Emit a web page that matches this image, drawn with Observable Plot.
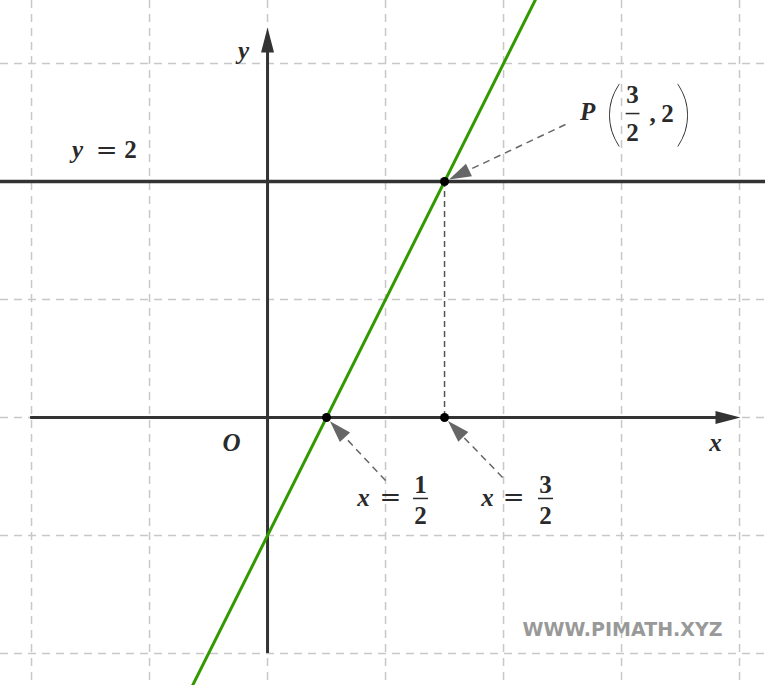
<!DOCTYPE html>
<html>
<head>
<meta charset="utf-8">
<script src="https://cdn.jsdelivr.net/npm/d3@7"></script>
<script src="https://cdn.jsdelivr.net/npm/@observablehq/plot@0.6"></script>
<style>
  html, body { margin: 0; padding: 0; background: #fff; }
  svg { display: block; }
</style>
</head>
<body>
<div id="chart"></div>
<script>
// ---- data ----
const gridX = [-2, -1, 0, 1, 2, 3, 4];
const gridY = [-2, -1, 0, 1, 2, 3];
// line y = 2x - 1 (two endpoints beyond the frame)
const lineXs = [-0.7, 2.35];
const lineYs = [-2.4, 3.7];
const horizLineY = 2;
const points = [
  {x: 0.5, y: 0},
  {x: 1.5, y: 0},
  {x: 1.5, y: 2}
];
// annotation arrows: tail -> target point
const arrows = [
  {id: "P",  x1: 2.525, y1: 2.483, x2: 1.5, y2: 2},
  {id: "a",  x1: 1.0,   y1: -0.534, x2: 0.5, y2: 0},
  {id: "b",  x1: 1.992, y1: -0.508, x2: 1.5, y2: 0}
];
// italic math labels
const italicLabels = [
  {x: -1.610, y: 2.263, t: "y"},
  {x: -0.203, y: 3.110, t: "y"},
  {x: 3.797,  y: -0.212, t: "x"},
  {x: -0.305, y: -0.220, t: "O"},
  {x: 2.712,  y: 2.585, t: "P"},
  {x: 0.814,  y: -0.678, t: "x"},
  {x: 1.864,  y: -0.678, t: "x"}
];
const equalSigns = [
  {x: -1.364, y: 2.263},
  {x: 1.042,  y: -0.678},
  {x: 2.085,  y: -0.678}
];
const uprightLabels = [
  {x: -1.161, y: 2.263, t: "2"},
  {x: 1.297,  y: -0.576, t: "1"},
  {x: 1.297,  y: -0.831, t: "2"},
  {x: 2.356,  y: -0.576, t: "3"},
  {x: 2.356,  y: -0.831, t: "2"},
  {x: 3.093,  y: 2.729, t: "3"},
  {x: 3.093,  y: 2.415, t: "2"},
  {x: 3.263,  y: 2.576, t: ","},
  {x: 3.390,  y: 2.576, t: "2"}
];
const fractionBars = [
  {x1: 1.233, x2: 1.360, y: -0.686},
  {x1: 2.292, x2: 2.419, y: -0.686},
  {x1: 3.035, x2: 3.152, y: 2.576}
];
const parens = [
  {x: 2.932, y: 2.568, t: "("},
  {x: 3.525, y: 2.568, t: ")"}
];
const watermark = [{x: 3.008, y: -1.797, t: "WWW.PIMATH.XYZ"}];
const axisX = {from: -2.008, tip: 4.008};
const axisY = {from: -2.0, tip: 3.305};

// ---- geometry helpers (data units; 1 unit = 118 px on both axes) ----
const U = 118;
function head(tx, ty, ux, uy, len, hw, id) {
  const n = Math.hypot(ux, uy); ux /= n; uy /= n;
  const bx = tx - ux * len, by = ty - uy * len;
  const px = -uy, py = ux;
  return [
    {id, x: tx, y: ty},
    {id, x: bx + px * hw, y: by + py * hw},
    {id, x: bx - px * hw, y: by - py * hw},
    {id, x: tx, y: ty}
  ];
}
const gap = 5 / U, annLen = 22 / U, annHw = 7 / U;
const annSegs = [], annHeads = [];
for (const a of arrows) {
  const ux = a.x2 - a.x1, uy = a.y2 - a.y1, n = Math.hypot(ux, uy);
  const tx = a.x2 - ux / n * gap, ty = a.y2 - uy / n * gap;
  annSegs.push({id: a.id, x1: a.x1, y1: a.y1, x2: tx - ux / n * annLen * 0.8, y2: ty - uy / n * annLen * 0.8});
  annHeads.push(...head(tx, ty, ux, uy, annLen, annHw, a.id));
}
const axLen = 25 / U, axHw = 6.5 / U;
const axisHeads = [
  ...head(axisX.tip, 0, 1, 0, axLen, axHw, "ax"),
  ...head(0, axisY.tip, 0, 1, axLen, axHw, "ay")
];
const greenLine = lineXs.map((x, i) => ({x, y: lineYs[i]}));

const mathFont = "Liberation Serif";

const chart = Plot.plot({
  width: 765,
  height: 685,
  margin: 0,
  x: {domain: [-2.263, 4.22], axis: null},
  y: {domain: [-2.271, 3.534], axis: null},
  style: {background: "#fff"},
  marks: [
    Plot.ruleX(gridX, {stroke: "#c8c8c8", strokeWidth: 1.5, strokeDasharray: "8,6"}),
    Plot.ruleY(gridY, {stroke: "#c8c8c8", strokeWidth: 1.5, strokeDasharray: "8,6"}),
    // axes
    Plot.ruleY([0], {x1: axisX.from, x2: axisX.tip - axLen * 0.8, stroke: "#333", strokeWidth: 3}),
    Plot.ruleX([0], {y1: axisY.from, y2: axisY.tip - axLen * 0.8, stroke: "#333", strokeWidth: 3}),
    Plot.line(axisHeads, {x: "x", y: "y", z: "id", fill: "#333", stroke: "none"}),
    // y = 2
    Plot.ruleY([horizLineY], {stroke: "#333", strokeWidth: 3.5}),
    // vertical dashed from P
    Plot.ruleX([points[2].x], {y1: 0, y2: points[2].y, stroke: "#555", strokeWidth: 1.5, strokeDasharray: "6,4"}),
    // green line
    Plot.line(greenLine, {x: "x", y: "y", stroke: "#339900", strokeWidth: 3}),
    // annotation arrows
    Plot.link(annSegs, {x1: "x1", y1: "y1", x2: "x2", y2: "y2", stroke: "#666", strokeWidth: 1.5, strokeDasharray: "7,5"}),
    Plot.line(annHeads, {x: "x", y: "y", z: "id", fill: "#666", stroke: "none"}),
    Plot.dot(points, {x: "x", y: "y", r: 4.5, fill: "#000", stroke: "none"}),
    // labels
    Plot.text(italicLabels, {x: "x", y: "y", text: "t", fontSize: 25, fontFamily: mathFont, fontStyle: "italic", fontWeight: "bold", fill: "#2a2a2a"}),
    Plot.text(uprightLabels, {x: "x", y: "y", text: "t", fontSize: 25, fontFamily: mathFont, fontWeight: "bold", fill: "#2a2a2a"}),
    Plot.text(equalSigns, {x: "x", y: "y", text: () => "=", fontSize: 26, fontFamily: "DejaVu Serif", fill: "#2a2a2a"}),
    Plot.link(fractionBars, {x1: "x1", x2: "x2", y1: "y", y2: "y", stroke: "#2a2a2a", strokeWidth: 1.5}),
    Plot.text(parens, {x: "x", y: "y", text: "t", fontSize: 72, fontFamily: "Lato", fontWeight: 100, fill: "#2a2a2a"}),
    Plot.text(watermark, {x: "x", y: "y", text: "t", fontSize: 19, fontFamily: "DejaVu Sans", fontWeight: "bold", fill: "#999"})
  ]
});
document.getElementById("chart").appendChild(chart);
</script>
</body>
</html>
